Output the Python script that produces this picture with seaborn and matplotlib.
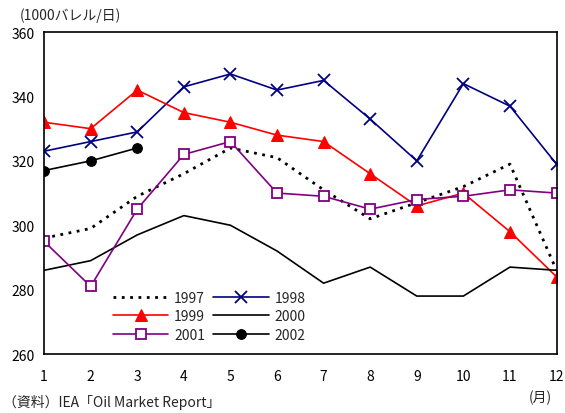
import matplotlib
matplotlib.use('Agg')
import matplotlib.pyplot as plt
import seaborn as sns

months = list(range(1, 13))
y1997 = [296, 299, 309, 316, 324, 321, 311, 302, 307, 312, 319, 286]
y1998 = [323, 326, 329, 343, 347, 342, 345, 333, 320, 344, 337, 319]
y1999 = [332, 330, 342, 335, 332, 328, 326, 316, 306, 310, 298, 284]
y2000 = [286, 289, 297, 303, 300, 292, 282, 287, 278, 278, 287, 286]
y2001 = [295, 281, 305, 322, 326, 310, 309, 305, 308, 309, 311, 310]
y2002 = [317, 320, 324]

sns.set_style('white')
plt.rcParams['font.family'] = ['Noto Sans CJK JP', 'DejaVu Sans']

fig = plt.figure(figsize=(5.65, 4.14), dpi=100)
ax = fig.add_axes([0.078, 0.1425, 0.907, 0.7775])

# Each year as its own line.
h97 = sns.lineplot(x=months, y=y1997, ax=ax, color='black', linestyle=(0, (1.0, 2.0)),
                   linewidth=2, label='1997').lines[-1]
h98 = sns.lineplot(x=months, y=y1998, ax=ax, color='#000080', marker='x', markersize=9,
                   markeredgecolor='#000080', markeredgewidth=1.3, linewidth=1.2,
                   label='1998').lines[-1]
h99 = sns.lineplot(x=months, y=y1999, ax=ax, color='#ff0000', marker='^', markersize=8,
                   markeredgecolor='#ff0000', linewidth=1.2, label='1999').lines[-1]
h00 = sns.lineplot(x=months, y=y2000, ax=ax, color='black', linewidth=1.2, label='2000').lines[-1]
h01 = sns.lineplot(x=months, y=y2001, ax=ax, color='#800080', marker='s', markersize=7,
                   markerfacecolor='white', markeredgecolor='#800080', markeredgewidth=1.3,
                   linewidth=1.2, label='2001').lines[-1]
h02 = sns.lineplot(x=months[:3], y=y2002, ax=ax, color='black', marker='o', markersize=7,
                   markeredgecolor='black', linewidth=1.2, label='2002').lines[-1]

ax.set_xlim(1, 12)
ax.set_ylim(260, 360)
ax.set_xticks(months)
ax.set_yticks(range(260, 361, 20))
ax.tick_params(direction='in', length=5, width=1, labelsize=10, pad=11, colors='black')
ax.tick_params(axis='y', pad=7)
for s in ax.spines.values():
    s.set_color('black')
    s.set_linewidth(1.2)

ax.legend([h97, h99, h01, h98, h00, h02], ['1997', '1999', '2001', '1998', '2000', '2002'],
          ncol=2, frameon=False, fontsize=10, loc='lower left', bbox_to_anchor=(0.11, 0.0),
          handlelength=4.0, columnspacing=0.6, labelspacing=0.3, handletextpad=0.4)

fig.text(0.035, 0.962, '(1000バレル/日)', fontsize=10, va='center')
fig.text(0.005, 0.027, '（資料）IEA「Oil Market Report」', fontsize=10, va='center')
fig.text(0.935, 0.04, '(月)', fontsize=10, va='center')

fig.savefig('out.png', dpi=100)
